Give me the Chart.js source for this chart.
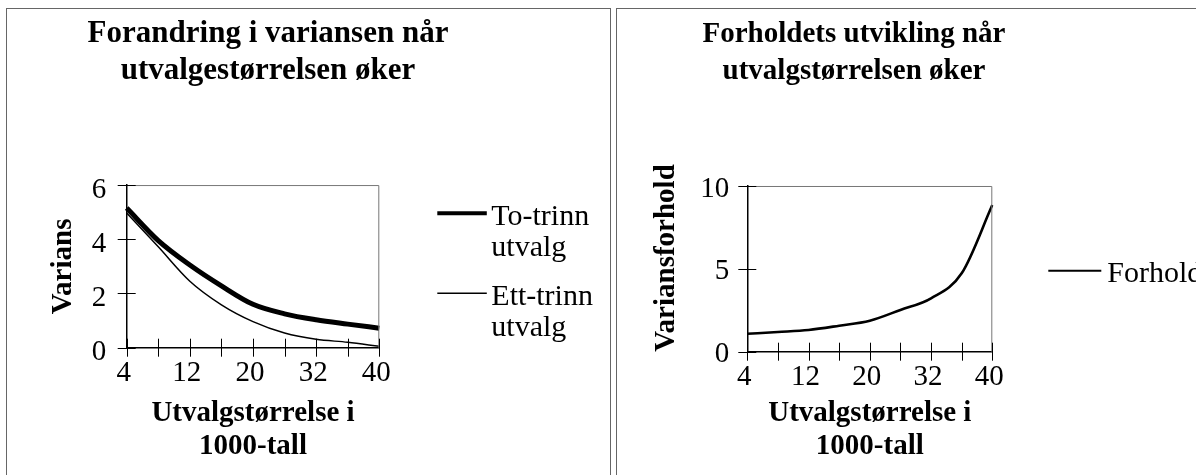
<!DOCTYPE html>
<html>
<head>
<meta charset="utf-8">
<script src="https://cdn.jsdelivr.net/npm/chart.js@4"></script>
<style>
  html, body { margin: 0; padding: 0; background: #fff; width: 1196px; height: 475px; overflow: hidden; }
  .box { position: absolute; top: 8px; height: 520px; border: 1px solid #666; box-sizing: border-box; }
  #boxL { left: 6px; width: 605px; }
  #boxR { left: 616px; width: 700px; }
  canvas { position: absolute; top: 0; }
  #cL { left: -80px; }
  #cR { left: 512px; }
</style>
</head>
<body>
<div class="box" id="boxL"></div>
<div class="box" id="boxR"></div>
<canvas id="cL" width="696" height="475"></canvas>
<canvas id="cR" width="684" height="475"></canvas>
<script>
// --- data ---
const sampleSizes = ['4', '8', '12', '16', '20', '24', '32', '36', '40'];
const shownSizes = ['4', '12', '20', '32', '40'];
const toTrinn  = [5.15, 3.95, 3.05, 2.28, 1.60, 1.25, 1.03, 0.87, 0.72];
const ettTrinn = [4.97, 3.72, 2.45, 1.58, 0.96, 0.54, 0.31, 0.20, 0.05];
const forhold  = [1.08, 1.19, 1.31, 1.57, 1.87, 2.52, 3.22, 4.73, 8.85];
const variansTicks = [0, 2, 4, 6];
const forholdTicks = [0, 5, 10];

const SERIF = "'Liberation Serif', 'Times New Roman', serif";
Chart.defaults.font.family = SERIF;
Chart.defaults.color = '#000';

// plot frame (grey top/right) and tick marks crossing the axes
const crossTicks = {
  id: 'crossTicks',
  afterDatasetsDraw(chart, args, opts) {
    const { ctx, chartArea: a, scales: { x, y } } = chart;
    ctx.save();
    ctx.strokeStyle = '#777';
    ctx.lineWidth = 1;
    ctx.beginPath();
    ctx.moveTo(a.left, a.top + 0.5);
    ctx.lineTo(a.right - 0.5, a.top + 0.5);
    ctx.lineTo(a.right - 0.5, a.bottom);
    ctx.stroke();
    ctx.strokeStyle = '#000';
    ctx.beginPath();
    x.ticks.forEach((t, i) => {
      const px = Math.round(x.getPixelForTick(i)) + 0.5;
      ctx.moveTo(px, a.bottom - opts.len);
      ctx.lineTo(px, a.bottom + opts.len);
    });
    y.ticks.forEach((t, i) => {
      const py = Math.round(y.getPixelForTick(i)) + 0.5;
      ctx.moveTo(a.left - opts.len, py);
      ctx.lineTo(a.left + opts.len, py);
    });
    ctx.stroke();
    ctx.restore();
  }
};

// legend to the right of the plot, label wrapped at spaces
const sideLegend = {
  id: 'sideLegend',
  afterDraw(chart, args, opts) {
    const { ctx, chartArea: a } = chart;
    const x = a.right + opts.left;
    ctx.save();
    ctx.font = '30px ' + SERIF;
    ctx.fillStyle = '#000';
    ctx.textBaseline = 'middle';
    chart.data.datasets.forEach((ds, k) => {
      const y = a.top + opts.top + k * opts.itemStep;
      ctx.strokeStyle = ds.borderColor;
      ctx.lineWidth = ds.legendWidth;
      ctx.beginPath();
      ctx.moveTo(x, y);
      ctx.lineTo(x + opts.lineLength, y);
      ctx.stroke();
      ds.label.split(' ').forEach((t, i) => {
        ctx.fillText(t, x + opts.lineLength + opts.gap, y + opts.shift + i * opts.lineHeight);
      });
    });
    ctx.restore();
  }
};

function makeScales(o) {
  return {
    x: {
      type: 'category',
      grid: { display: false, drawTicks: false },
      border: { display: true, color: '#000', width: 1.5 },
      ticks: {
        autoSkip: false, maxRotation: 0, padding: 8.6, labelOffset: -3,
        font: { size: 29 },
        callback(v) {
          const lab = this.getLabelForValue(v);
          return shownSizes.includes(lab) ? lab : '';
        }
      },
      title: {
        display: true,
        text: ['Utvalgstørrelse i', '1000-tall'],
        font: { size: 29, weight: 'bold', lineHeight: 1.15 },
        padding: { top: 0, bottom: 11.4 }
      },
      afterFit(s) { s.height = o.xHeight; }
    },
    y: {
      min: 0, max: o.max,
      grid: { display: false, drawTicks: false },
      border: { display: true, color: '#000', width: 1.5 },
      ticks: { padding: o.tickPad, labelOffset: o.labelShift, font: { size: 29 } },
      afterBuildTicks(s) { s.ticks = o.ticks.map(v => ({ value: v })); },
      title: {
        display: true,
        text: o.yTitle,
        align: o.titleAlign,
        font: { size: 29, weight: 'bold', lineHeight: 1.2 },
        padding: { top: o.titlePad, bottom: 0 }
      },
      afterFit(s) { s.width = o.yWidth; }
    },
    legendSpace: {
      type: 'linear', position: 'right', display: true,
      grid: { display: false, drawTicks: false },
      border: { display: false },
      ticks: { display: false },
      afterFit(s) { s.width = o.rightWidth; }
    }
  };
}

function titleOpts(text, size, lineHeight, topPad, bottomPad) {
  return {
    display: true,
    text: text,
    font: { size: size, weight: 'bold', lineHeight: lineHeight },
    padding: { top: topPad, bottom: bottomPad }
  };
}

new Chart(document.getElementById('cL'), {
  type: 'line',
  data: {
    labels: sampleSizes,
    datasets: [
      { label: 'To-trinn utvalg', data: toTrinn, borderColor: '#000', borderWidth: 5, legendWidth: 4,
        pointRadius: 0, cubicInterpolationMode: 'monotone' },
      { label: 'Ett-trinn utvalg', data: ettTrinn, borderColor: '#000', borderWidth: 1.5, legendWidth: 1.5,
        pointRadius: 0, cubicInterpolationMode: 'monotone' }
    ]
  },
  options: {
    responsive: false,
    animation: false,
    layout: { padding: 0 },
    plugins: {
      legend: { display: false },
      tooltip: { enabled: false },
      title: titleOpts(['Forandring i variansen når', 'utvalgestørrelsen øker'], 31, 1.18, 16, 95.9),
      crossTicks: { len: 9 },
      sideLegend: { left: 58, top: 28.3, lineLength: 49.5, gap: 4.5, lineHeight: 31, itemStep: 80, shift: 4 }
    },
    scales: makeScales({
      max: 6, ticks: variansTicks, yTitle: 'Varians', titleAlign: 'center', titlePad: 126.1,
      tickPad: 20.5, labelShift: 5, yWidth: 206.7, xHeight: 127.3, rightWidth: 236.7
    })
  },
  plugins: [crossTicks, sideLegend]
});

new Chart(document.getElementById('cR'), {
  type: 'line',
  data: {
    labels: sampleSizes,
    datasets: [
      { label: 'Forhold', data: forhold, borderColor: '#000', borderWidth: 2.6, legendWidth: 2,
        pointRadius: 0, cubicInterpolationMode: 'monotone' }
    ]
  },
  options: {
    responsive: false,
    animation: false,
    layout: { padding: 0 },
    plugins: {
      legend: { display: false },
      tooltip: { enabled: false },
      title: titleOpts(['Forholdets utvikling når', 'utvalgstørrelsen øker'], 29, 1.262, 16.6, 96.2),
      crossTicks: { len: 9 },
      sideLegend: { left: 56, top: 84.7, lineLength: 53, gap: 6, lineHeight: 31, itemStep: 80, shift: 3 }
    },
    scales: makeScales({
      max: 10, ticks: forholdTicks, yTitle: 'Variansforhold', titleAlign: 'start', titlePad: 137.5,
      tickPad: 18, labelShift: 3, yWidth: 235.3, xHeight: 123.3, rightWidth: 203.7
    })
  },
  plugins: [crossTicks, sideLegend]
});
</script>
</body>
</html>
